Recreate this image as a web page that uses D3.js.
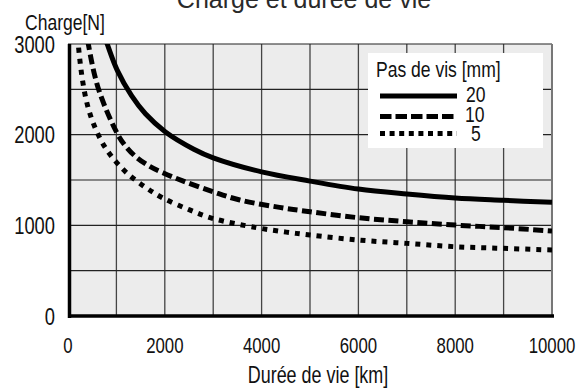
<!DOCTYPE html>
<html><head><meta charset="utf-8">
<script src="https://cdn.jsdelivr.net/npm/d3@7"></script>
<style>
html,body{margin:0;padding:0;background:#fff;}
svg{display:block;}
text{font-family:"Liberation Sans",Arial,sans-serif;fill:#111;}
</style></head><body>
<svg id="chart" width="584" height="389"></svg>
<script>
const title = "Charge et durée de vie";
const yTitle = "Charge[N]";
const xTitle = "Durée de vie [km]";
const legendTitle = "Pas de vis [mm]";
const seriesNames = ["20", "10", "5"];
const xTicks = [0, 2000, 4000, 6000, 8000, 10000];
const yTicks = [0, 1000, 2000, 3000];
const gridX = [1000,2000,3000,4000,5000,6000,7000,8000,9000];
const gridY = [500,1000,1500,2000,2500];

const life20 = [700, 810, 1016, 1313, 1600, 2014, 2600, 3000, 4000, 5000, 6000, 7000, 8000, 9000, 10000];
const load20 = [3170, 3000, 2712, 2430, 2230, 2030, 1840, 1745, 1590, 1488, 1400, 1345, 1301, 1276, 1254];
const life10 = [370, 420, 632, 1031, 1210, 1416, 1690, 1960, 2370, 3000, 3550, 4371, 5000, 6000, 7000, 8000, 9000, 10000];
const load10 = [3200, 3000, 2500, 2000, 1860, 1750, 1650, 1580, 1490, 1370, 1279, 1198, 1150, 1084, 1040, 1003, 974, 937];
const life5 = [190, 212, 300, 400, 520, 700, 900, 1210, 1600, 1965, 2515, 3000, 3890, 4509, 5000, 6000, 7000, 8000, 9000, 10000];
const load5 = [3200, 3000, 2600, 2330, 2130, 1920, 1760, 1580, 1420, 1300, 1170, 1075, 975, 925, 893, 838, 801, 764, 746, 728];

const svg = d3.select("#chart");
const x = d3.scaleLinear().domain([0, 10000]).range([68, 552]);
const y = d3.scaleLinear().domain([0, 3000]).range([316, 44]);
const NARROW = 0.78;

function ntext(parent, tx, ty, str, size, anchor) {
  return parent.append("text")
    .attr("transform", `translate(${tx},${ty}) scale(${NARROW},1)`)
    .attr("text-anchor", anchor || "start")
    .style("font-size", size + "px")
    .text(str);
}

// title
svg.append("text").attr("x", 304).attr("y", 7.5).attr("text-anchor", "middle")
  .style("font-size", "25px").style("fill", "#2a2a2a")
  .text(title);
ntext(svg, 25, 30, yTitle, 22.5, "start");

// plot background
svg.append("rect").attr("x", x(0)).attr("y", y(3000)).attr("width", x(10000) - x(0)).attr("height", y(0) - y(3000)).attr("fill", "#ececec");

// grid
svg.append("g").selectAll("line").data(gridX).join("line")
  .attr("x1", d => x(d)).attr("x2", d => x(d)).attr("y1", y(3000)).attr("y2", y(0))
  .attr("stroke", "#444").attr("stroke-width", 1.3);
svg.append("g").selectAll("line").data(gridY).join("line")
  .attr("x1", x(0)).attr("x2", x(10000)).attr("y1", d => y(d)).attr("y2", d => y(d))
  .attr("stroke", "#222").attr("stroke-width", 1.1);
svg.append("line").attr("x1", x(0)).attr("x2", x(10000)).attr("y1", y(3000)).attr("y2", y(3000)).attr("stroke", "#222").attr("stroke-width", 1.2);
svg.append("line").attr("x1", x(10000)).attr("x2", x(10000)).attr("y1", y(3000)).attr("y2", y(0)).attr("stroke", "#777").attr("stroke-width", 2);

// clip
svg.append("clipPath").attr("id", "clip").append("rect")
  .attr("x", x(0)).attr("y", y(3000)).attr("width", x(10000) - x(0)).attr("height", y(0) - y(3000));

const line = d3.line().x(d => x(d[0])).y(d => y(d[1])).curve(d3.curveCatmullRom.alpha(0.5));
const series = [
  {name: seriesNames[0], pts: d3.zip(life20, load20), dash: null},
  {name: seriesNames[1], pts: d3.zip(life10, load10), dash: "10,4.5"},
  {name: seriesNames[2], pts: d3.zip(life5, load5), dash: "5,6"}
];
const gCurves = svg.append("g").attr("clip-path", "url(#clip)");
series.forEach(s => {
  gCurves.append("path").attr("d", line(s.pts)).attr("fill", "none").attr("stroke", "#000")
    .attr("stroke-width", 5).attr("stroke-dasharray", s.dash);
});

// axes lines
svg.append("line").attr("x1", x(0) + 1.5).attr("x2", x(0) + 1.5).attr("y1", y(3000)).attr("y2", y(0) + 2).attr("stroke", "#000").attr("stroke-width", 3.5);
svg.append("line").attr("x1", x(0)).attr("x2", x(10000) + 2).attr("y1", y(0)).attr("y2", y(0)).attr("stroke", "#000").attr("stroke-width", 3.5);

// tick labels
const gy = svg.append("g");
yTicks.forEach(d => ntext(gy, 55, y(d) + 8.5, d, 23.5, "end"));
const gx = svg.append("g");
xTicks.forEach(d => ntext(gx, x(d), 353, d, 21.5, "middle"));
ntext(svg, 318, 383, xTitle, 23, "middle");

// legend
const lg = svg.append("g");
lg.append("rect").attr("x", 368).attr("y", 53).attr("width", 175).attr("height", 95).attr("fill", "#fff");
ntext(lg, 376, 77, legendTitle, 22.5, "start");
const legendDash = [null, "11.5,4", "5,4.6"];
const legY = [96, 116.5, 133.5];
const legTx = [466, 465, 471];
const legTy = [102, 122, 141];
series.forEach((s, i) => {
  lg.append("line").attr("x1", 380).attr("x2", 457).attr("y1", legY[i]).attr("y2", legY[i])
    .attr("stroke", "#000").attr("stroke-width", 5).attr("stroke-dasharray", legendDash[i]);
  ntext(lg, legTx[i], legTy[i], s.name, 22.5, "start");
});
</script>
</body></html>
